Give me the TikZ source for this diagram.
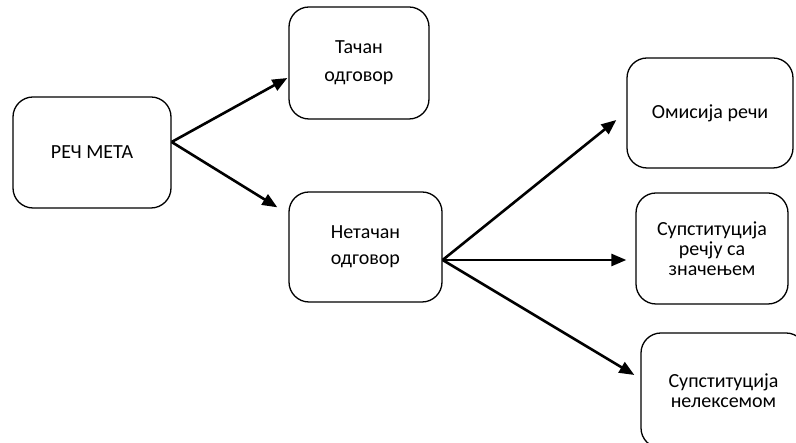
\documentclass[tikz,border=0pt]{standalone}
\usepackage{fontspec}
\setmainfont{Carlito}
\usetikzlibrary{arrows.meta}

\tikzset{
   box/.style={draw, rounded corners=20pt, line width=1.3pt, align=center, inner sep=0pt},
   arr/.style={-{Triangle[length=15pt,width=12pt]}, line width=2.6pt}
}

\begin{document}
\begin{tikzpicture}[x=1pt,y=1pt]
      \useasboundingbox (0,0) rectangle (796,443);
      \def \Boxes {
         meta/92/290.5/158/111/24/{РЕЧ МЕТА},
         tacan/359/380/140/112/28/{Тачан\\одговор},
         netacan/365.5/196/153/110/26/{Нетачан\\одговор},
         omisija/710/330/166/110/24/{Омисија речи},
         supsta/712/194.5/152/111/20/{Супституција\\речју са\\значењем},
         supstb/723.5/52.5/165/115/20/{Супституција\\нелексемом}}
      \foreach \u / \x / \y / \w / \h / \s / \n in \Boxes {
         \node[box, minimum width=\w pt, minimum height=\h pt,
            font=\fontsize{20}{\s}\selectfont] (\u) at (\x, \y){\n};
      }
      \coordinate (m) at ([yshift=10.5]meta.east);
      \coordinate (n) at ([yshift=-13]netacan.east);
      \draw[arr] (m) -- ([shift={(-1,-15)}]tacan.west);
      \draw[arr] (m) -- ([shift={(-11,-16)}]netacan.north west);
      \draw[arr] (n) -- ([shift={(-10,-7)}]omisija.west);
      \draw[arr] (n) -- ([shift={(-9,-11.5)}]supsta.west);
      \draw[arr] (n) -- ([shift={(-6,15.5)}]supstb.west);
   \end{tikzpicture}
\end{document}
